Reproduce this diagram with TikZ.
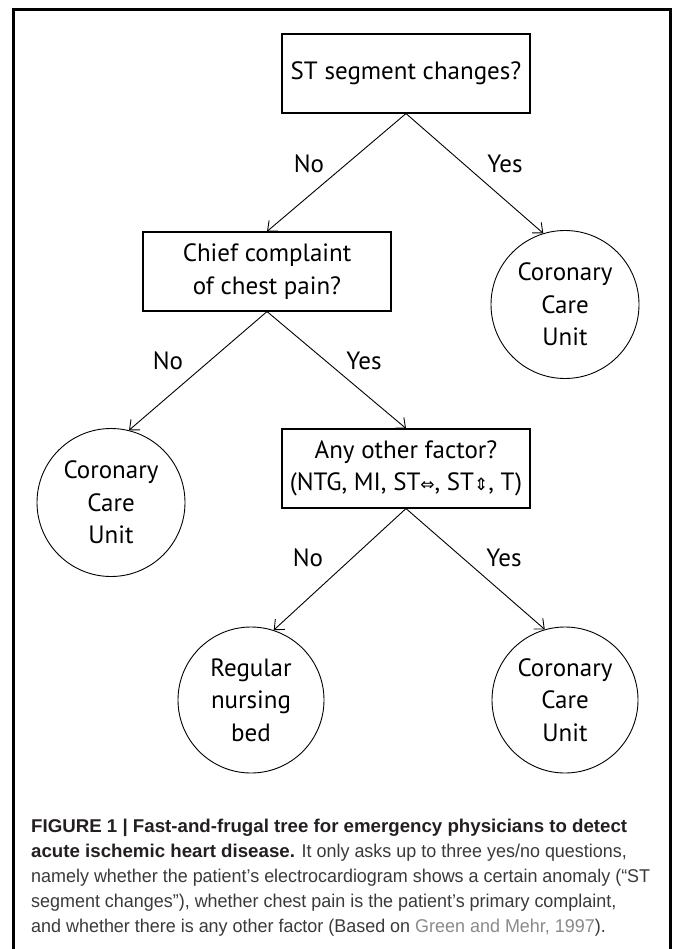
\documentclass[tikz,border=0pt]{standalone}
\usepackage{fontspec}
\setmainfont{Liberation Sans}
\newfontfamily\capfont[FakeStretch=0.97, BoldFeatures={FakeStretch=1.01}]{Liberation Sans}
\newfontfamily\treefont{PT Sans}
\newfontfamily\arrowfont{DejaVu Sans}
\usetikzlibrary{arrows.meta}
\definecolor{captext}{HTML}{3A3A3A}
\definecolor{capbold}{HTML}{231F20}
\definecolor{citegrey}{HTML}{8A8A8A}
\newcommand{\lrar}{{\arrowfont\fontsize{17}{17}\selectfont ⇔}}
\newcommand{\udar}{{\arrowfont\fontsize{17}{17}\selectfont ⇕}}

\begin{document}
\begin{tikzpicture}[x=1pt, y=-1pt,
    qbox/.style={draw, line width=1.1pt, minimum width=248pt, minimum height=79pt, align=center, inner sep=0pt},
    leaf/.style={draw, circle, line width=0.9pt, minimum size=148pt, align=center, inner sep=0pt},
    arr/.style={line width=0.9pt, -{Straight Barb[length=8pt, width=14pt]}},
    ans/.style={inner sep=0pt}]
  \useasboundingbox (0,0) rectangle (673,949);
  \tikzset{every node/.append style={font=\treefont\fontsize{25}{32.5}\selectfont}}
  % frame
  \draw[line width=2.4pt] (13.5,960) -- (13.5,9.5) -- (670.5,9.5) -- (670.5,960);
  % questions
  \node[qbox] (q0) at (406,73.5){ST segment changes?};
  \node[qbox] (q1) at (267,271.5){Chief complaint\\of chest pain?};
  \node[qbox] (q2) at (406,468.5){Any other factor?\\(NTG, MI, ST\lrar, ST\udar, T)};
  % exits
  \node[leaf] (e0) at (565,304.5){Coronary\\Care\\Unit};
  \node[leaf] (e1) at (111,502.5){Coronary\\Care\\Unit};
  \node[leaf, minimum size=146pt] (e2) at (251,700){Regular\\nursing\\bed};
  \node[leaf, minimum size=146pt] (e3) at (565,700){Coronary\\Care\\Unit};
  % branches
  \draw[arr](q0.south) -- (q1.north);
  \draw[arr](q0.south) -- (e0.107);
  \draw[arr](q1.south) -- (e1.76);
  \draw[arr](q1.south) -- (q2.north);
  \draw[arr](q2.south) -- (e2.72);
  \draw[arr](q2.south) -- (e3.106);
  \node[ans] (n0) at (309,164){No};
  \node[ans] (y0) at (505,164){Yes};
  \node[ans] (n1) at (168,361){No};
  \node[ans] (y1) at (364,361){Yes};
  \node[ans] (n2) at (308,558){No};
  \node[ans] (y2) at (504,558){Yes};
  % caption
  \node[anchor=north west, align=left, inner sep=0pt, text=captext,
        font=\capfont\fontsize{18.5}{25}\selectfont] (cap) at (31,819)
    {{\bfseries\color{capbold}FIGURE 1 | Fast-and-frugal tree for emergency physicians to detect}\\
     {\bfseries\color{capbold}acute ischemic heart disease.} It only asks up to three yes/no questions,\\
     namely whether the patient’s electrocardiogram shows a certain anomaly (“ST\\
     segment changes”), whether chest pain is the patient’s primary complaint,\\
     and whether there is any other factor (Based on {\color{citegrey}Green and Mehr, 1997}).};
\end{tikzpicture}
\end{document}
